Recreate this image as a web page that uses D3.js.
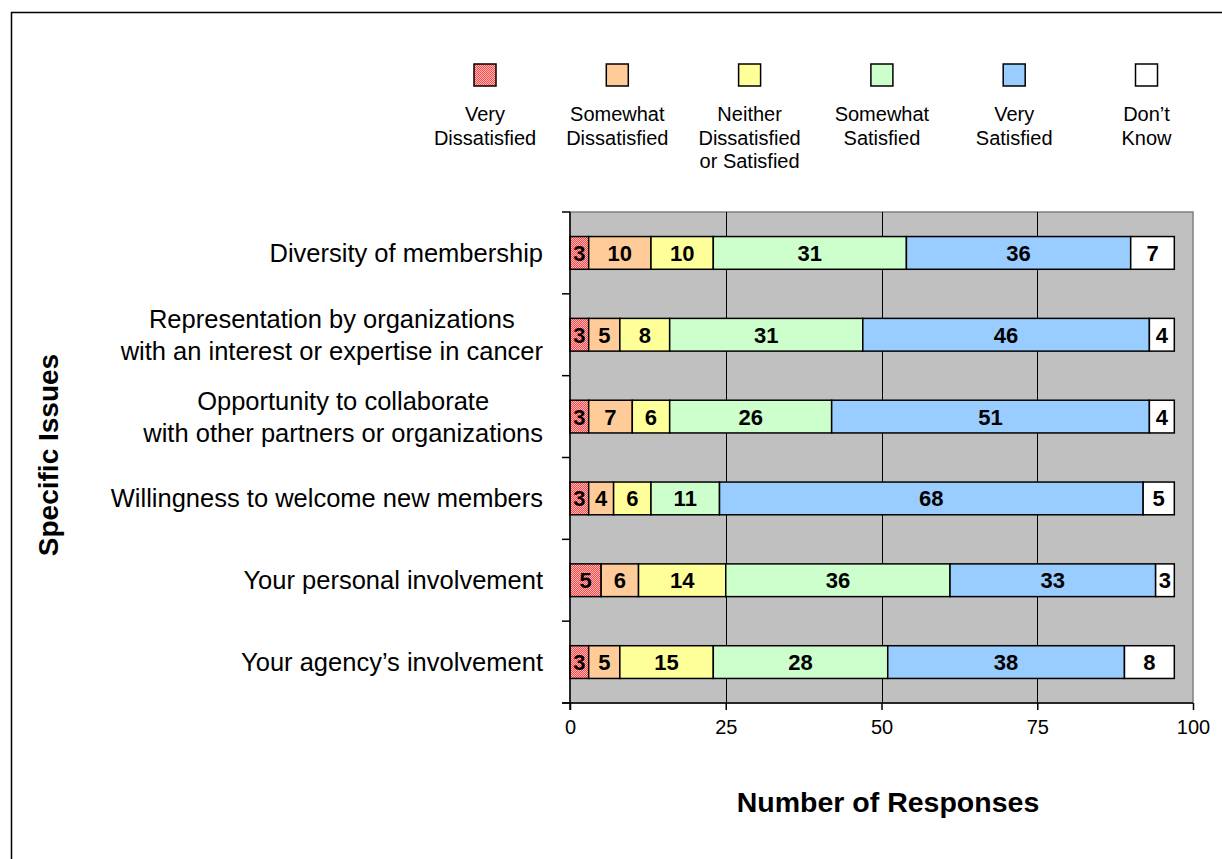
<!DOCTYPE html>
<html>
<head>
<meta charset="utf-8">
<script src="https://cdn.jsdelivr.net/npm/d3@7"></script>
<style>
  html, body { margin: 0; padding: 0; background: #fff; overflow: hidden; }
  svg { display: block; font-family: "Liberation Sans", Arial, sans-serif; }
</style>
</head>
<body>
<svg id="chart" width="1222" height="859"></svg>
<script>
var issues = [
  ["Diversity of membership"],
  ["Representation by organizations", "with an interest or expertise in cancer"],
  ["Opportunity to collaborate", "with other partners or organizations"],
  ["Willingness to welcome new members"],
  ["Your personal involvement"],
  ["Your agency\u2019s involvement"]
];
var ratings = ["Very Dissatisfied", "Somewhat Dissatisfied", "Neither Dissatisfied or Satisfied",
               "Somewhat Satisfied", "Very Satisfied", "Don\u2019t Know"];
var legendLines = [["Very", "Dissatisfied"], ["Somewhat", "Dissatisfied"], ["Neither", "Dissatisfied", "or Satisfied"],
                   ["Somewhat", "Satisfied"], ["Very", "Satisfied"], ["Don\u2019t", "Know"]];
var veryDissatisfied     = [3, 3, 3, 3, 5, 3];
var somewhatDissatisfied = [10, 5, 7, 4, 6, 5];
var neither              = [10, 8, 6, 6, 14, 15];
var somewhatSatisfied    = [31, 31, 26, 11, 36, 28];
var verySatisfied        = [36, 46, 51, 68, 33, 38];
var dontKnow             = [7, 4, 4, 5, 3, 8];
var xTicks = [0, 25, 50, 75, 100];

var series = [veryDissatisfied, somewhatDissatisfied, neither, somewhatSatisfied, verySatisfied, dontKnow];
var fills = ["url(#checker)", "#FFCC99", "#FFFF99", "#CCFFCC", "#99CCFF", "#FFFFFF"];

var svg = d3.select("#chart");

// checkered red fill used by Excel for the first series
var defs = svg.append("defs");
var pat = defs.append("pattern")
  .attr("id", "checker")
  .attr("patternUnits", "userSpaceOnUse")
  .attr("width", 2).attr("height", 2);
pat.append("rect").attr("width", 2).attr("height", 2).attr("fill", "#FF4848");
pat.append("rect").attr("width", 1).attr("height", 1).attr("fill", "#FFB8B8");
pat.append("rect").attr("x", 1).attr("y", 1).attr("width", 1).attr("height", 1).attr("fill", "#FFB8B8");

// outer frame: only top and left edges are in the picture
svg.append("path")
  .attr("d", "M11.5,859V12.5H1222")
  .attr("fill", "none").attr("stroke", "#000").attr("stroke-width", 1.5);

var plot = { left: 570, right: 1193, top: 212, bottom: 703 };

var x = d3.scaleLinear().domain([0, 100]).range([plot.left, plot.right]);
var y = d3.scaleBand()
  .domain(d3.range(issues.length))
  .range([plot.top, plot.bottom])
  .paddingInner(0.6)
  .paddingOuter(0.3);

// plot background
svg.append("rect")
  .attr("x", plot.left).attr("y", plot.top)
  .attr("width", plot.right - plot.left).attr("height", plot.bottom - plot.top)
  .attr("fill", "#C0C0C0")
  .attr("stroke", "#808080").attr("stroke-width", 1.5);

// gridlines
svg.append("g")
  .selectAll("line")
  .data(xTicks.filter(function(d) { return d > 0 && d < 100; }))
  .join("line")
  .attr("x1", function(d) { return Math.round(x(d)) + 0.5; })
  .attr("x2", function(d) { return Math.round(x(d)) + 0.5; })
  .attr("y1", plot.top).attr("y2", plot.bottom)
  .attr("stroke", "#000").attr("stroke-width", 1);

// stacked segments
var rows = issues.map(function(label, i) {
  var acc = 0;
  return series.map(function(s, k) {
    var seg = { row: i, k: k, v: s[i], x0: acc, x1: acc + s[i] };
    acc += s[i];
    return seg;
  });
});

var segs = svg.append("g")
  .selectAll("g.row")
  .data(rows)
  .join("g")
  .attr("class", "row")
  .selectAll("g.seg")
  .data(function(d) { return d; })
  .join("g")
  .attr("class", "seg");

segs.append("rect")
  .attr("x", function(d) { return x(d.x0); })
  .attr("y", function(d) { return y(d.row); })
  .attr("width", function(d) { return x(d.x1) - x(d.x0); })
  .attr("height", y.bandwidth())
  .attr("fill", function(d) { return fills[d.k]; })
  .attr("stroke", "#000").attr("stroke-width", 1.5);

segs.append("text")
  .attr("x", function(d) { return (x(d.x0) + x(d.x1)) / 2; })
  .attr("y", function(d) { return y(d.row) + y.bandwidth() / 2 + 8; })
  .attr("text-anchor", "middle")
  .attr("font-size", 22).attr("font-weight", "bold")
  .text(function(d) { return d.v; });

// axes
var xAxis = svg.append("g")
  .attr("transform", "translate(0," + plot.bottom + ")")
  .call(d3.axisBottom(x).tickValues(xTicks).tickSize(7).tickPadding(10).tickFormat(d3.format("d")));
xAxis.select(".domain").attr("d", "M" + (plot.left - 8) + ",0H" + plot.right).attr("stroke-width", 1.5);
xAxis.selectAll(".tick line").attr("stroke-width", 1.5);
xAxis.selectAll(".tick text").attr("font-size", 20).attr("font-family", null).attr("fill", "#000");

var yTicks = d3.range(issues.length + 1).map(function(i) {
  return i < issues.length ? y(i) - y.step() * y.paddingInner() / 2 : plot.bottom;
});
svg.append("line")
  .attr("x1", plot.left).attr("x2", plot.left)
  .attr("y1", plot.top).attr("y2", plot.bottom + 7)
  .attr("stroke", "#000").attr("stroke-width", 1.5);
svg.append("g")
  .selectAll("line")
  .data(yTicks)
  .join("line")
  .attr("x1", plot.left - 8).attr("x2", plot.left)
  .attr("y1", function(d) { return d; }).attr("y2", function(d) { return d; })
  .attr("stroke", "#000").attr("stroke-width", 1.5);

// category labels: lines centred on each other, block right-aligned
var labelRight = 543;
var cats = svg.append("g")
  .selectAll("g.cat")
  .data(issues)
  .join("g")
  .attr("class", "cat")
  .attr("font-size", 25.5);
cats.each(function(lines, i) {
  var g = d3.select(this);
  var cy = y(i) + y.bandwidth() / 2;
  var lh = 32;
  var t = g.selectAll("text")
    .data(lines)
    .join("text")
    .attr("y", function(d, j) { return cy + 9 + (j - (lines.length - 1) / 2) * lh; })
    .text(function(d) { return d; });
  var maxW = d3.max(t.nodes(), function(n) { return n.getComputedTextLength(); });
  t.attr("x", labelRight - maxW / 2).attr("text-anchor", "middle");
});

// axis titles
svg.append("text")
  .attr("x", 888).attr("y", 812)
  .attr("text-anchor", "middle")
  .attr("font-size", 28.5).attr("font-weight", "bold")
  .text("Number of Responses");
svg.append("text")
  .attr("transform", "translate(58,455) rotate(-90)")
  .attr("text-anchor", "middle")
  .attr("font-size", 28).attr("font-weight", "bold")
  .text("Specific Issues");

// legend
var lx = d3.scalePoint().domain(ratings).range([485, 1146.5]);
var leg = svg.append("g")
  .selectAll("g.leg")
  .data(ratings)
  .join("g")
  .attr("class", "leg")
  .attr("transform", function(d) { return "translate(" + lx(d) + ",0)"; });
leg.append("rect")
  .attr("x", -11).attr("y", 64)
  .attr("width", 22).attr("height", 22)
  .attr("fill", function(d, i) { return fills[i]; })
  .attr("stroke", "#000").attr("stroke-width", 1.5);
leg.each(function(d, i) {
  d3.select(this).selectAll("text")
    .data(legendLines[i])
    .join("text")
    .attr("x", 0)
    .attr("y", function(t, j) { return 121 + j * 23.5; })
    .attr("text-anchor", "middle")
    .attr("font-size", 20)
    .text(function(t) { return t; });
});
</script>
</body>
</html>
